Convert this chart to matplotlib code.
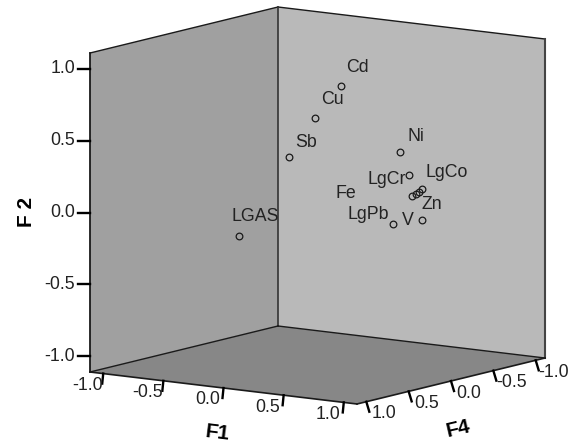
import matplotlib
matplotlib.use("Agg")
import matplotlib.pyplot as plt
import numpy as np

plt.rcParams['font.family'] = ['Liberation Sans', 'DejaVu Sans']

names = ["Cd", "Cu", "Sb", "Ni", "LgCr", "LgCo", "Zn", "", "Fe", "V", "LgPb", "LGAS"]
f1 = [0.055, -0.161, -0.308, 0.335, 0.411, 0.446, 0.422, 0.397, 0.364, 0.446, 0.419, -0.582]
f4 = [-0.2, -0.2, -0.1, -0.5, -0.5, -0.6, -0.6, -0.6, -0.6, -0.6, -0.3, 0.1]
f2 = [0.809, 0.565, 0.292, 0.333, 0.179, 0.071, 0.050, 0.033, 0.016, -0.145, -0.130, -0.254]
ticks = [-1.0, -0.5, 0.0, 0.5, 1.0]

# label placement relative to the marker, in pixels
label_dx = [16, 17, 17, 16, -23, 25, 13, 0, -66, -14, -25, 16]
label_dy = [-18, -18, -15, -16, 4, -17, 13, 0, -3, 0, -10, -19]

LIM = 1.11
origin = np.array([90.0, 372.0])
vec_f1 = np.array([267.0, 32.0])
vec_f4 = np.array([188.0, -46.0])
vec_f2 = np.array([0.0, -319.0])


def project(a, b, c):
    u = (a + LIM) / (2 * LIM)
    v = (LIM - b) / (2 * LIM)
    w = (c + LIM) / (2 * LIM)
    return origin + u * vec_f1 + v * vec_f4 + w * vec_f2


fig = plt.figure(figsize=(5.69, 4.45), dpi=100)
ax = fig.add_axes([0, 0, 1, 1])
ax.set_xlim(0, 569)
ax.set_ylim(445, 0)
ax.axis('off')

# box corners
lfb = project(-LIM, LIM, -LIM)
ffb = project(LIM, LIM, -LIM)
bkb = project(-LIM, -LIM, -LIM)
rtb = project(LIM, -LIM, -LIM)
lft = project(-LIM, LIM, LIM)
bkt = project(-LIM, -LIM, LIM)
rtt = project(LIM, -LIM, LIM)


def wall(pts, color):
    pts = np.array(pts)
    ax.fill(pts[:, 0], pts[:, 1], facecolor=color, edgecolor='none', zorder=1)


def edge(p, q, color='#1a1a1a', lw=1.0):
    ax.plot([p[0], q[0]], [p[1], q[1]], color=color, lw=lw, zorder=2,
            solid_capstyle='projecting')


wall([lfb, bkb, bkt, lft], '#a0a0a0')
wall([bkb, rtb, rtt, bkt], '#b9b9b9')
wall([lfb, ffb, rtb, bkb], '#878787')

edge(lft, bkt)
edge(bkt, rtt)
edge(lft, lfb, lw=1.3)
edge(bkt, bkb, color='#333333', lw=1.2)
edge(rtt, rtb, color='#444444', lw=1.5)
edge(lfb, bkb)
edge(bkb, rtb)
edge(lfb, ffb, lw=1.2)
edge(ffb, rtb, lw=1.2)

fs = 12.8
tick_col = '#222222'
for t in ticks:
    p = project(-LIM, LIM, t)
    ax.plot([p[0] - 12, p[0]], [p[1], p[1]], color='black', lw=1.7, zorder=2)
    ax.text(p[0] - 15, p[1], "%.1f" % t, ha='right', va='center', fontsize=fs, color=tick_col)

    p = project(t, LIM, -LIM)
    ax.plot([p[0], p[0] - 1], [p[1], p[1] + 10], color='black', lw=1.7, zorder=2)
    ax.text(p[0] - 16, p[1] + 12, "%.1f" % t, ha='center', va='center', fontsize=fs, color=tick_col)

    p = project(LIM, t, -LIM)
    ax.plot([p[0], p[0] + 3], [p[1], p[1] + 10], color='black', lw=1.7, zorder=2)
    ax.text(p[0] + 18, p[1] + 12, "%.1f" % t, ha='center', va='center', fontsize=fs, color=tick_col)

ax.text(27, 212, "F 2", rotation=90, ha='center', va='center', fontsize=15, fontweight='bold')
ax.text(217, 433, "F1", rotation=-7, ha='center', va='center', fontsize=15, fontweight='bold')
ax.text(458, 429, "F4", rotation=13, ha='center', va='center', fontsize=15, fontweight='bold')

pts = np.array([project(a, b, c) for a, b, c in zip(f1, f4, f2)])
ax.plot(pts[:, 0], pts[:, 1], 'o', mfc='none', mec='#1a1a1a', mew=0.9, ms=4.8, zorder=3)
for p, name, dx, dy in zip(pts, names, label_dx, label_dy):
    if name:
        ax.text(p[0] + dx, p[1] + dy, name, ha='center', va='center', fontsize=fs,
                color='#222222', zorder=4)

fig.savefig("out.png", dpi=100)
